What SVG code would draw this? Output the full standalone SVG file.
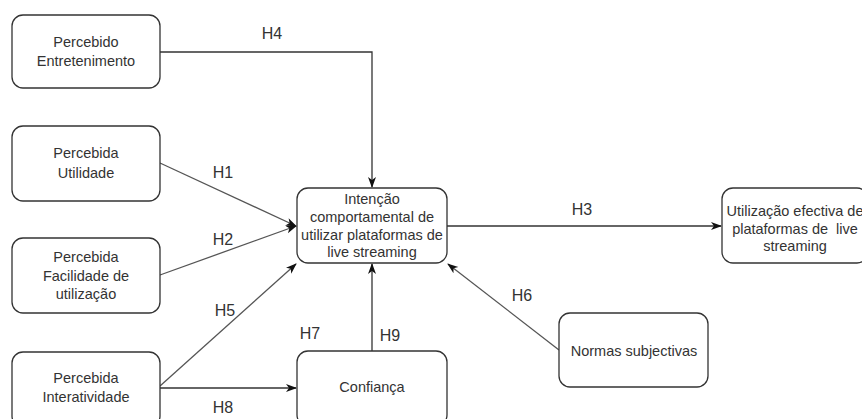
<svg xmlns="http://www.w3.org/2000/svg" width="862" height="419" viewBox="0 0 862 419">
<defs>
<style>
.box{fill:#fff;stroke:#333;stroke-width:1.3}
.t{font-family:"Liberation Sans",Arial,sans-serif;font-size:14.5px;fill:#333;text-anchor:middle;dominant-baseline:central}
.h{font-family:"Liberation Sans",Arial,sans-serif;font-size:16px;fill:#333;text-anchor:middle;dominant-baseline:central}
.c{fill:none;stroke:#333;stroke-width:1.3}
.d{fill:none;stroke:#555;stroke-width:1.3}
</style>
<marker id="arr" viewBox="0 0 11 10" refX="10" refY="5" markerWidth="11" markerHeight="10" markerUnits="userSpaceOnUse" orient="auto">
<path d="M0,1 L11,5 L0,9 L3,5 Z" fill="#111"/>
</marker>
</defs>
<rect width="862" height="419" fill="#fff"/>
<g id="connectors">
<path class="c" d="M160,52 H372 V187" marker-end="url(#arr)"/>
<path class="d" d="M160,163 L296,226" marker-end="url(#arr)"/>
<path class="d" d="M160,275 L296,226" marker-end="url(#arr)"/>
<path class="d" d="M160,386 L296,264" marker-end="url(#arr)"/>
<path class="c" d="M160,388 H296" marker-end="url(#arr)"/>
<path class="c" d="M372,351 V264" marker-end="url(#arr)"/>
<path class="d" d="M559,350 L448,264" marker-end="url(#arr)"/>
<path class="c" d="M447,226 H721" marker-end="url(#arr)"/>
<text class="h" x="272" y="33">H4</text>
<text class="h" x="223" y="172">H1</text>
<text class="h" x="223" y="239">H2</text>
<text class="h" x="225" y="310">H5</text>
<text class="h" x="223" y="407">H8</text>
<text class="h" x="310" y="333">H7</text>
<text class="h" x="390" y="335">H9</text>
<text class="h" x="522" y="295">H6</text>
<text class="h" x="582" y="209">H3</text>
</g>
<g id="n-entretenimento">
<rect class="box" x="12" y="15" width="148" height="73" rx="11"/>
<text class="t" x="86" y="42">Percebido</text>
<text class="t" x="86" y="61">Entretenimento</text>
</g>
<g id="n-utilidade">
<rect class="box" x="12" y="126" width="148" height="75" rx="11"/>
<text class="t" x="86" y="153">Percebida</text>
<text class="t" x="86" y="173">Utilidade</text>
</g>
<g id="n-facilidade">
<rect class="box" x="12" y="238" width="148" height="75" rx="11"/>
<text class="t" x="86" y="257">Percebida</text>
<text class="t" x="86" y="276">Facilidade de</text>
<text class="t" x="86" y="294">utilização</text>
</g>
<g id="n-interatividade">
<rect class="box" x="12" y="352" width="148" height="75" rx="11"/>
<text class="t" x="86" y="378">Percebida</text>
<text class="t" x="86" y="397">Interatividade</text>
</g>
<g id="n-intencao">
<rect class="box" x="297" y="188" width="150" height="75" rx="11"/>
<text class="t" x="372" y="199">Intenção</text>
<text class="t" x="372" y="217">comportamental de</text>
<text class="t" x="372" y="235">utilizar plataformas de</text>
<text class="t" x="372" y="252">live streaming</text>
</g>
<g id="n-confianca">
<rect class="box" x="297" y="351" width="150" height="75" rx="11"/>
<text class="t" x="372" y="387">Confiança</text>
</g>
<g id="n-normas">
<rect class="box" x="559" y="313" width="149" height="74" rx="11"/>
<text class="t" x="634" y="351">Normas subjectivas</text>
</g>
<g id="n-utilizacao">
<rect class="box" x="722" y="188" width="146" height="75" rx="11"/>
<text class="t" x="795" y="211">Utilização efectiva de</text>
<text class="t" x="795" y="229">plataformas de&#160; live</text>
<text class="t" x="795" y="246">streaming</text>
</g>
</svg>
